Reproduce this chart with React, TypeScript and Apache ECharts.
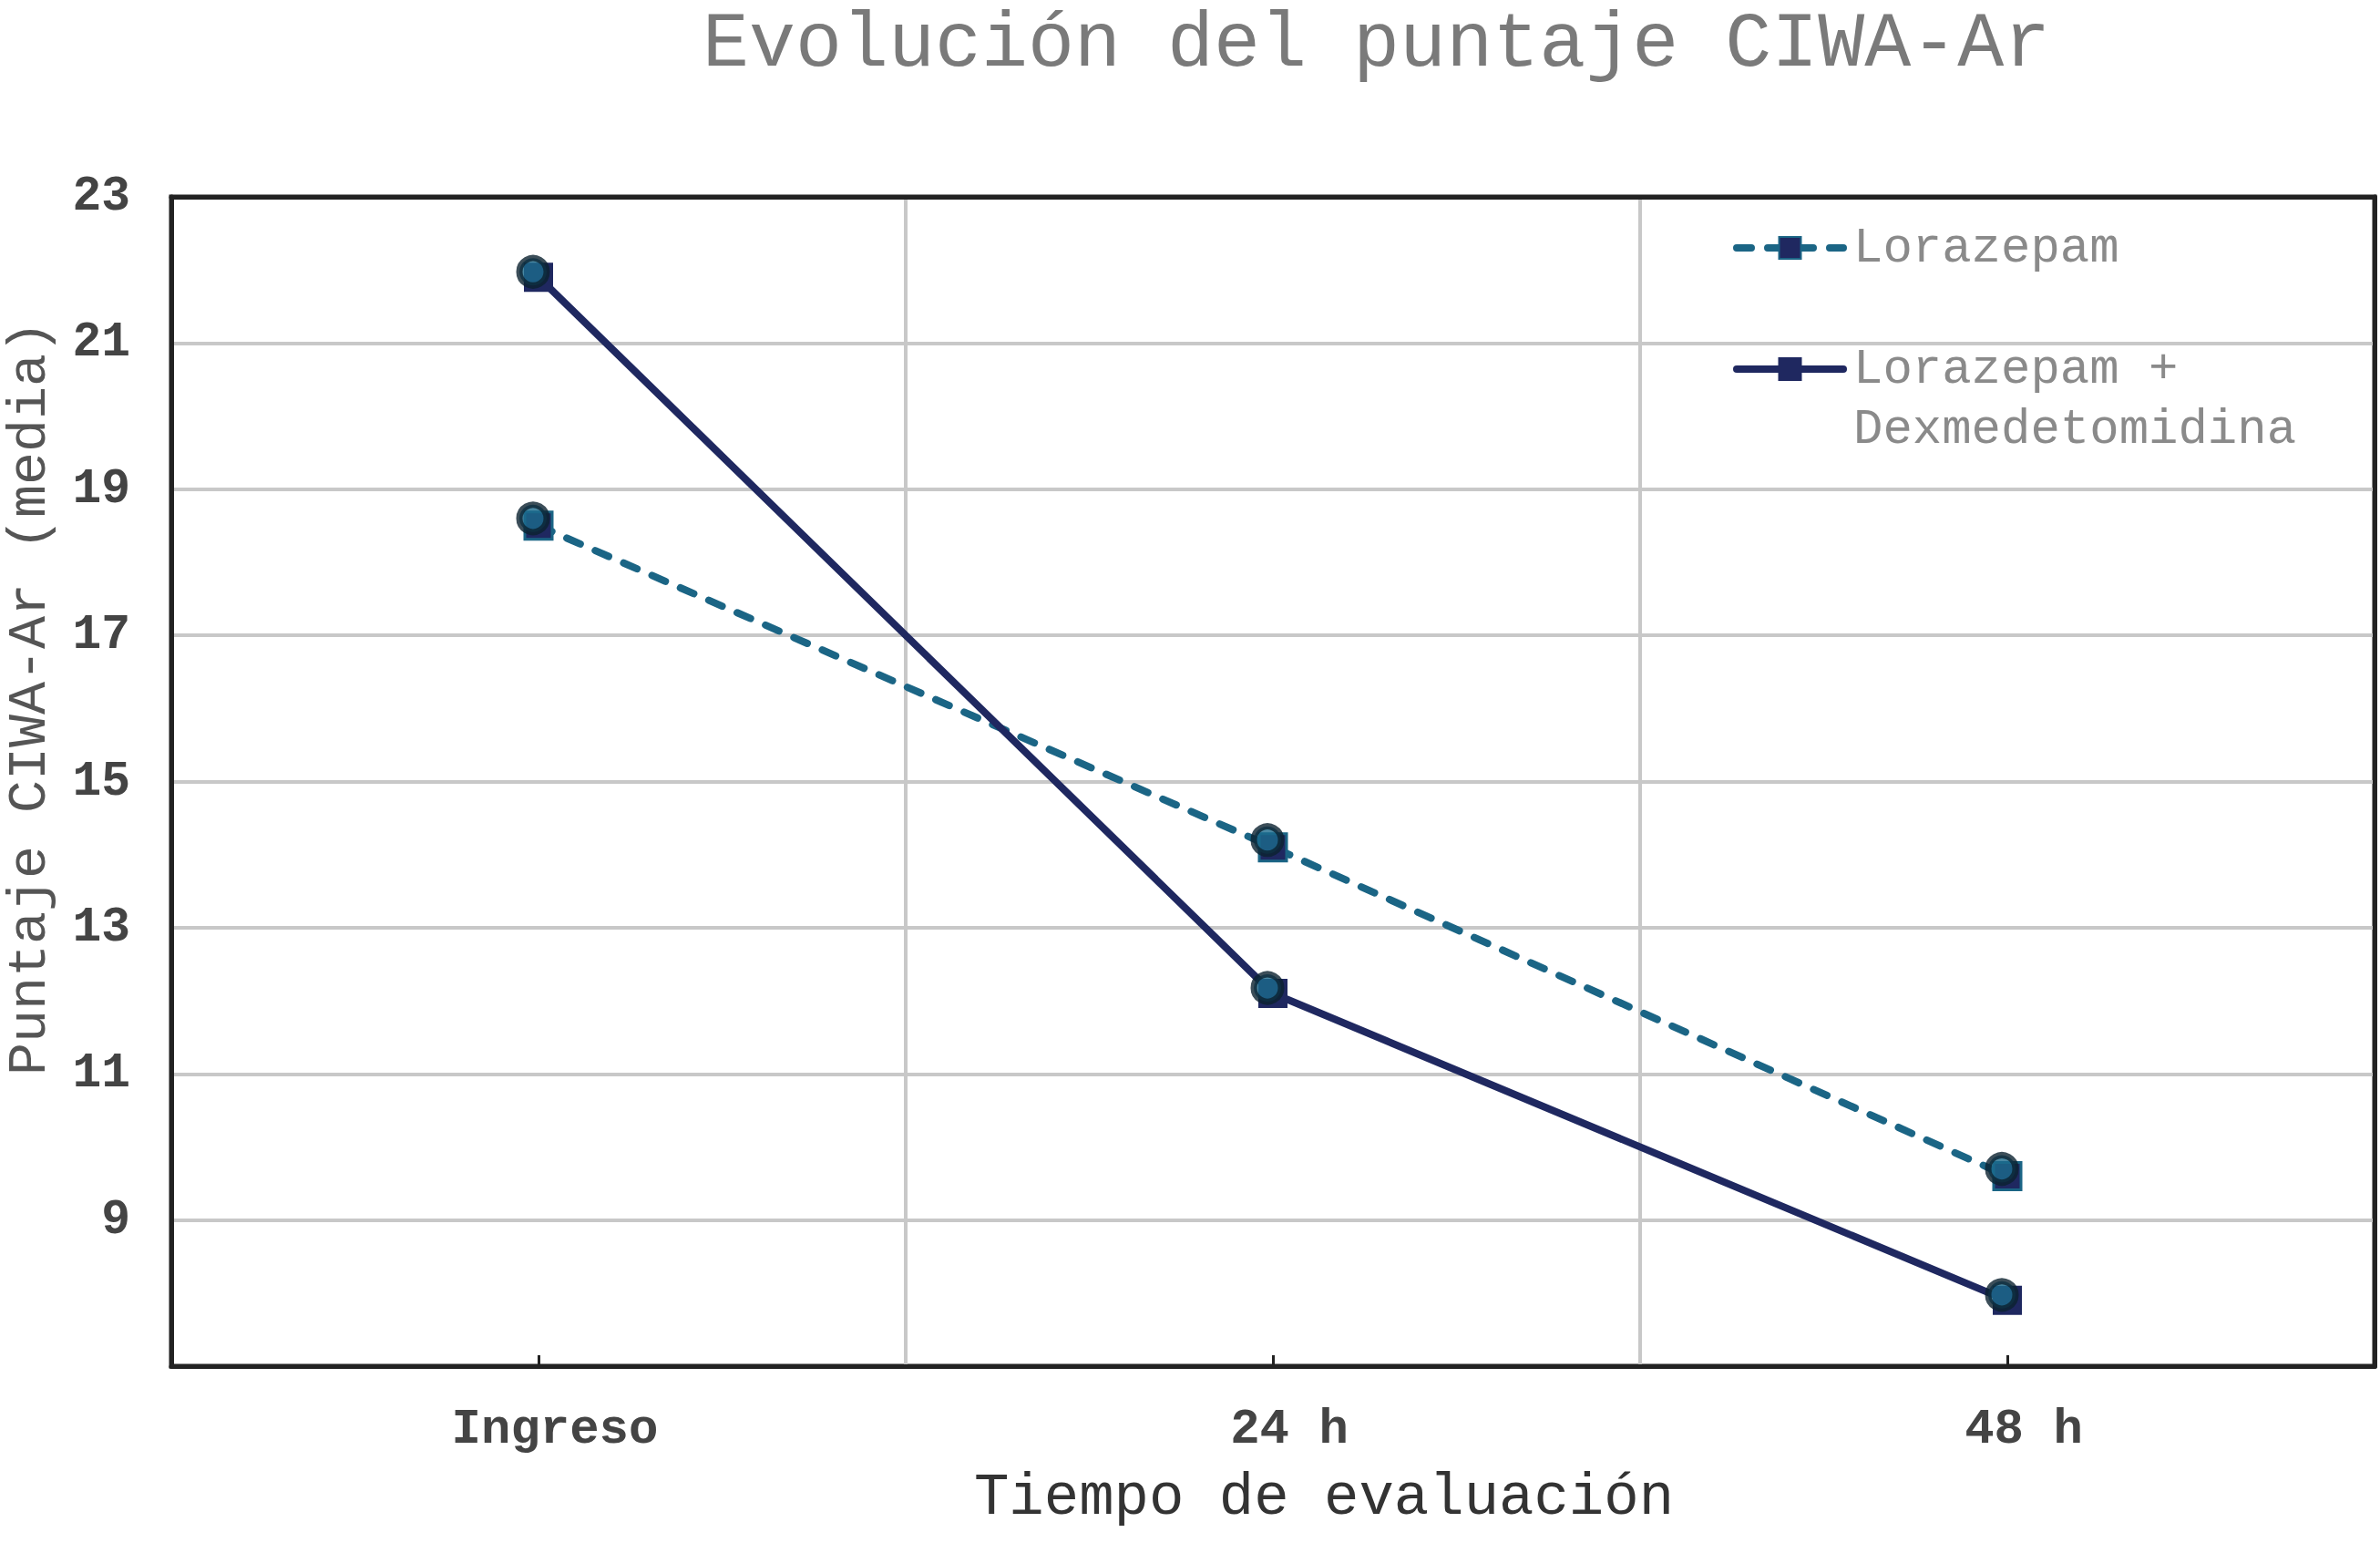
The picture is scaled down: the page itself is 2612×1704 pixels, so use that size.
import React, { useEffect, useRef } from "react";
import * as echarts from "echarts";

const categories = ["Ingreso", "24 h", "48 h"];
const lorazepam = [18.5, 14.1, 9.6];
const combinacion = [21.9, 12.1, 7.9];
const yMin = 7;
const yMax = 23;
const yInterval = 2;

const titleText = "Evolución del puntaje CIWA-Ar";
const xName = "Tiempo de evaluación";
const yName = "Puntaje CIWA-Ar (media)";
const serieA = "Lorazepam";
const serieB = "Lorazepam + Dexmedetomidina";

const MONO = "'Courier New', 'Liberation Mono', 'DejaVu Sans Mono', monospace";
const TEAL = "#1b6585";
const NAVY = "#1f2860";
const FRAME = "#222222";

export default function App() {
  const ref = useRef<HTMLDivElement>(null);
  useEffect(() => {
    if (!ref.current) return;
    const chart = echarts.init(ref.current, null, { renderer: "svg" });
    const circleStyle = {
      color: "#1b6a8c",
      borderColor: "#0b2230",
      borderWidth: 7,
    };
    const frameAxis = {
      show: true,
      axisLine: { show: true, lineStyle: { color: FRAME, width: 5 } },
      axisTick: { show: false },
      axisLabel: { show: false },
      splitLine: { show: false },
      z: 4,
    };
    chart.setOption({
      animation: false,
      backgroundColor: "#ffffff",
      title: {
        text: titleText,
        left: 766,
        top: 2,
        textStyle: {
          fontFamily: MONO,
          fontSize: 85,
          fontWeight: "normal",
          color: "#7a7a7a",
        },
      },
      grid: {
        left: 188,
        right: 6,
        top: 216,
        bottom: 205,
        show: true,
        borderColor: FRAME,
        borderWidth: 5,
        backgroundColor: "transparent",
      },
      legend: {
        orient: "vertical",
        left: 1902,
        top: 239,
        padding: 0,
        itemGap: 1,
        itemWidth: 117,
        itemHeight: 30,
        lineStyle: { width: 8, cap: "round" },
        textStyle: {
          fontFamily: MONO,
          fontSize: 54,
          lineHeight: 66,
          color: "#8a8a8a",
          padding: [0, 0, 0, 6],
        },
        formatter: (name: string) =>
          name === serieB ? "\nLorazepam +\nDexmedetomidina" : name,
        data: [serieA, serieB],
      },
      xAxis: [
        {
          type: "category",
          data: categories,
          boundaryGap: true,
          axisLine: { show: true, lineStyle: { color: FRAME, width: 5 } },
          axisTick: {
            show: true,
            alignWithLabel: true,
            inside: true,
            length: 12,
            lineStyle: { color: FRAME, width: 3 },
          },
          axisLabel: {
            fontFamily: MONO,
            fontSize: 54,
            fontWeight: "bold",
            color: "#444444",
            margin: 42,
            padding: [0, 0, 0, 36],
          },
          splitLine: { show: true, lineStyle: { color: "#c8c8c8", width: 4 } },
        },
        { type: "category", data: categories, position: "top", ...frameAxis },
      ],
      yAxis: [
        {
          type: "value",
          min: yMin,
          max: yMax,
          interval: yInterval,
          axisLine: { show: true, lineStyle: { color: FRAME, width: 5 } },
          axisTick: { show: false },
          axisLabel: {
            fontFamily: MONO,
            fontSize: 53,
            fontWeight: "bold",
            color: "#444444",
            margin: 45,
            showMinLabel: false,
          },
          splitLine: { show: true, lineStyle: { color: "#c8c8c8", width: 4 } },
        },
        {
          type: "value",
          min: yMin,
          max: yMax,
          interval: yInterval,
          position: "right",
          ...frameAxis,
        },
      ],
      graphic: [
        {
          type: "text",
          x: 1453,
          y: 1644,
          style: {
            text: xName,
            fontFamily: MONO,
            fontSize: 64,
            fill: "#333333",
            align: "center",
            verticalAlign: "middle",
          },
        },
        {
          type: "text",
          x: 33,
          y: 766,
          rotation: Math.PI / 2,
          style: {
            text: yName,
            fontFamily: MONO,
            fontSize: 60,
            fill: "#555555",
            align: "center",
            verticalAlign: "middle",
          },
        },
      ],
      series: [
        {
          name: serieA,
          type: "line",
          data: lorazepam,
          symbol: "rect",
          symbolSize: 30,
          showSymbol: true,
          lineStyle: {
            color: TEAL,
            width: 8,
            type: [16, 18],
            cap: "round",
          },
          itemStyle: { color: NAVY, borderColor: TEAL, borderWidth: 3 },
          z: 2,
        },
        {
          name: serieB,
          type: "line",
          data: combinacion,
          symbol: "rect",
          symbolSize: 30,
          showSymbol: true,
          lineStyle: { color: NAVY, width: 8, cap: "round" },
          itemStyle: { color: NAVY, borderColor: NAVY, borderWidth: 2 },
          z: 2,
        },
        {
          name: "Lorazepam puntos",
          type: "scatter",
          data: lorazepam,
          symbol: "circle",
          symbolSize: 30,
          symbolOffset: [-6, -8],
          itemStyle: circleStyle,
          z: 3,
        },
        {
          name: "Combinación puntos",
          type: "scatter",
          data: combinacion,
          symbol: "circle",
          symbolSize: 30,
          symbolOffset: [-6, -6],
          itemStyle: circleStyle,
          z: 3,
        },
      ],
    });
    return () => chart.dispose();
  }, []);
  return (
    <div
      ref={ref}
      style={{ position: "absolute", left: 0, top: 0, width: 2612, height: 1704 }}
    />
  );
}
